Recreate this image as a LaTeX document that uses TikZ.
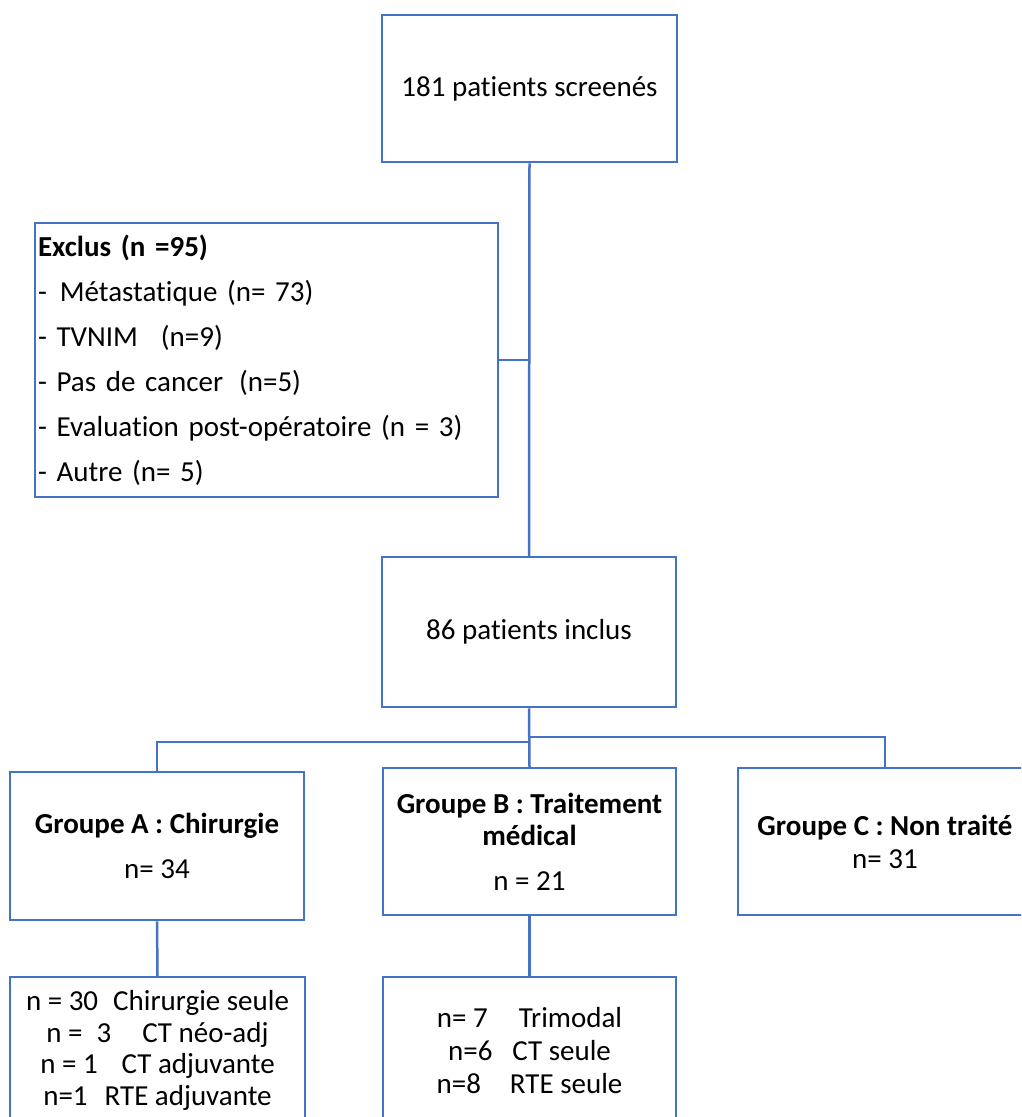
\documentclass[tikz,border=0pt]{standalone}
\usepackage{fontspec}
\setmainfont{Carlito}[Ligatures=NoCommon]
\definecolor{lineblue}{RGB}{68,114,196}
\begin{document}
\begin{tikzpicture}[x=1pt,y=-1pt,
  box/.style={draw=lineblue, line width=2.5pt, inner sep=0pt, align=center, text=black},
  link/.style={draw=lineblue, line width=2.5pt}]
\useasboundingbox (0,0) rectangle (1021,1117);
\clip (0,0) rectangle (1021,1117);

\node[box, minimum width=295pt, minimum height=147pt, font=\fontsize{29}{35}\selectfont] (top) at (529.5,88.5) {181 patients screenés};

\node[box, text width=457pt, inner xsep=3pt, minimum height=274pt, align=left, font=\fontsize{29}{45}\selectfont] (excl) at (266.5,360)
 {\textbf{Exclus (n =95)}\\
  -\hspace{13pt}Métastatique (n= 73)\\
  - TVNIM\hspace{23pt}(n=9)\\
  - Pas de cancer\hspace{16pt}(n=5)\\
  - Evaluation post-opératoire (n = 3)\\
  - Autre (n= 5)};

\node[box, minimum width=294pt, minimum height=150pt, font=\fontsize{29}{35}\selectfont] (incl) at (529,632) {86 patients inclus};

\node[box, minimum width=294pt, minimum height=148pt, font=\fontsize{29}{45}\selectfont] (gA) at (157,846)
 {\textbf{Groupe A : Chirurgie}\\ n= 34};
\node[box, minimum width=293pt, minimum height=147pt, font=\fontsize{29}{32}\selectfont] (gB) at (529.5,841.5)
 {\textbf{Groupe B : Traitement}\\ \textbf{médical}\\[13pt] n = 21};
\node[box, minimum width=294pt, minimum height=147pt, font=\fontsize{29}{33}\selectfont] (gC) at (885,841.5)
 {\textbf{Groupe C : Non traité}\\ n= 31};

\node[box, minimum width=295pt, minimum height=147pt, font=\fontsize{29}{31.5}\selectfont] (sA) at (157.5,1050.5)
 {n = 30\hspace{15pt}Chirurgie seule\\
  n =\hspace{14pt}3\hspace{31pt}CT néo-adj\\
  n = 1\hspace{24pt}CT adjuvante\\
  n=1\hspace{17pt}RTE adjuvante};
\node[box, minimum width=293pt, minimum height=147pt, font=\fontsize{29}{33}\selectfont] (sB) at (529.5,1050.5)
 {n= 7\hspace{31pt}Trimodal\\
  n=6\hspace{20pt}CT seule\\
  n=8\hspace{29pt}RTE seule};

\coordinate (jL) at (529,742);
\coordinate (jR) at (529,737);

\draw[link] (top.south) -- (incl.north);
\draw[link] (excl.east) -- (excl.east -| incl.north);
\draw[link] (incl.south) -- (gB.north);
\draw[link] (gA.north) |- (jL);
\draw[link] (gC.north) |- (jR);
\draw[link] (gA.south) -- (sA.north);
\draw[link] (gB.south) -- (sB.north);
\end{tikzpicture}
\end{document}
